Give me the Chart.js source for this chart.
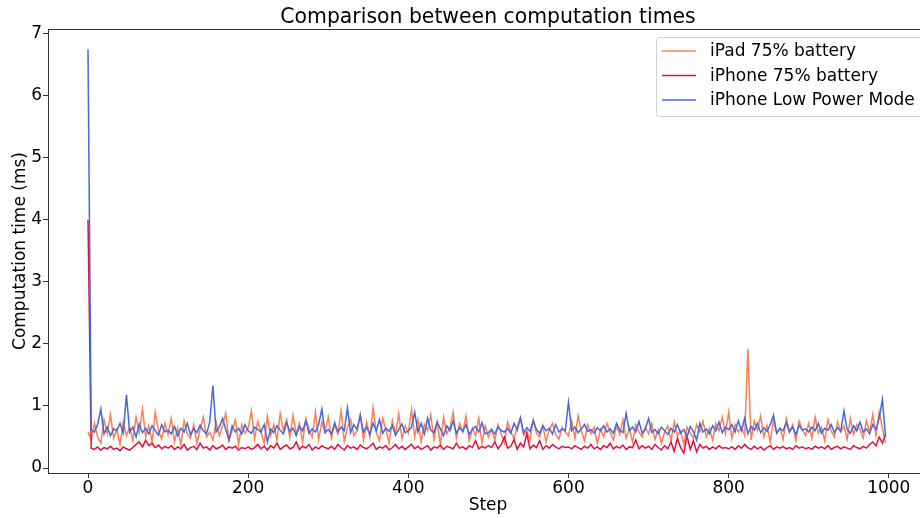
<!DOCTYPE html>
<html lang="en">
<head>
<meta charset="UTF-8" />
<title>Comparison between computation times</title>
<script src="https://cdn.jsdelivr.net/npm/chart.js"></script>
<style>
  html, body { margin: 0; padding: 0; background: #fff; overflow: hidden; }
  #wrap { width: 920px; height: 518px; overflow: hidden; }
</style>
</head>
<body>
<div id="wrap"><canvas id="timesChart" width="928" height="518"></canvas></div>
<script>
  // one value every STEP steps (0 .. 996)
  const STEP = 4;

  const seriesNames = ['iPad 75% battery', 'iPhone 75% battery', 'iPhone Low Power Mode'];
  const seriesColors = ['#ff7f50', '#dc143c', '#4169e1'];

  const xTicks = [0, 200, 400, 600, 800, 1000];
  const yTicks = [0, 1, 2, 3, 4, 5, 6, 7];

  const ipad = [
    0.58, 0.45, 0.72, 0.50, 0.40, 0.78, 0.55, 0.86, 0.48, 0.62, 0.38, 0.74, 0.52, 0.66, 0.44, 0.82, 0.57, 0.95, 0.50, 0.68, 0.41, 0.90, 0.60, 0.47, 0.72,
    0.53, 0.80, 0.42, 0.65, 0.37, 0.76, 0.55, 0.48, 0.70, 0.40, 0.62, 0.82, 0.50, 0.58, 0.45, 0.74, 0.52, 0.68, 0.88, 0.44, 0.60, 0.78, 0.38, 0.70, 0.56,
    0.64, 0.92, 0.47, 0.75, 0.58, 0.40, 0.83, 0.52, 0.70, 0.45, 0.88, 0.60, 0.78, 0.49, 0.85, 0.56, 0.72, 0.42, 0.80, 0.62, 0.50, 0.90, 0.46, 0.74, 0.58,
    0.82, 0.48, 0.70, 0.55, 0.92, 0.43, 0.66, 0.78, 0.52, 0.60, 0.86, 0.45, 0.74, 0.50, 0.97, 0.58, 0.44, 0.80, 0.62, 0.40, 0.76, 0.54, 0.88, 0.47, 0.68,
    0.56, 0.95, 0.50, 0.78, 0.42, 0.70, 0.60, 0.86, 0.46, 0.74, 0.38, 0.82, 0.55, 0.66, 0.90, 0.48, 0.72, 0.58, 0.84, 0.44, 0.64, 0.52, 0.80, 0.40, 0.68,
    0.50, 0.62, 0.45, 0.70, 0.55, 0.40, 0.74, 0.58, 0.48, 0.66, 0.82, 0.52, 0.60, 0.44, 0.78, 0.56, 0.50, 0.68, 0.42, 0.62, 0.72, 0.54, 0.46, 0.66, 0.58,
    0.52, 0.76, 0.48, 0.84, 0.60, 0.44, 0.70, 0.55, 0.66, 0.40, 0.62, 0.50, 0.72, 0.58, 0.45, 0.68, 0.54, 0.78, 0.48, 0.64, 0.42, 0.70, 0.58, 0.50, 0.66,
    0.55, 0.72, 0.46, 0.62, 0.40, 0.58, 0.68, 0.44, 0.74, 0.52, 0.60, 0.38, 0.66, 0.56, 0.48, 0.70, 0.58, 0.76, 0.50, 0.64, 0.45, 0.72, 0.60, 0.82, 0.55,
    0.90, 0.48, 0.70, 0.58, 0.66, 0.52, 1.92, 0.45, 0.76, 0.60, 0.84, 0.50, 0.68, 0.42, 0.78, 0.56, 0.64, 0.46, 0.80, 0.58, 0.70, 0.44, 0.76, 0.62, 0.52,
    0.72, 0.48, 0.82, 0.56, 0.66, 0.44, 0.78, 0.60, 0.50, 0.74, 0.58, 0.68, 0.46, 0.80, 0.54, 0.70, 0.62, 0.48, 0.76, 0.58, 0.86, 0.52, 0.90, 0.64, 0.40
  ];

  const iphone = [
    4.00, 0.32, 0.30, 0.34, 0.29, 0.33, 0.31, 0.35, 0.30, 0.32, 0.28, 0.34, 0.31, 0.29, 0.33, 0.38, 0.42, 0.34, 0.45, 0.36, 0.40, 0.33, 0.37, 0.31, 0.35,
    0.32, 0.36, 0.30, 0.34, 0.31, 0.38, 0.29, 0.33, 0.35, 0.30, 0.40, 0.32, 0.34, 0.29, 0.36, 0.31, 0.33, 0.37, 0.30, 0.34, 0.32, 0.35, 0.29, 0.33, 0.31,
    0.34, 0.30, 0.33, 0.38, 0.31, 0.35, 0.29, 0.36, 0.32, 0.40, 0.30, 0.34, 0.37, 0.31, 0.33, 0.42, 0.30, 0.35, 0.32, 0.38, 0.29, 0.34, 0.31, 0.36, 0.33,
    0.31, 0.35, 0.30, 0.38, 0.33, 0.29, 0.36, 0.32, 0.34, 0.30, 0.37, 0.33, 0.31, 0.35, 0.40, 0.30, 0.34, 0.32, 0.36, 0.29, 0.33, 0.38, 0.31, 0.35, 0.30,
    0.34, 0.38, 0.31, 0.35, 0.30, 0.33, 0.36, 0.29, 0.34, 0.32, 0.37, 0.30, 0.35, 0.33, 0.31, 0.40, 0.32, 0.34, 0.30, 0.36, 0.33, 0.44, 0.31, 0.35, 0.32,
    0.36, 0.33, 0.42, 0.31, 0.38, 0.50, 0.32, 0.35, 0.46, 0.30, 0.40, 0.34, 0.55, 0.31, 0.37, 0.33, 0.44, 0.30, 0.36, 0.32, 0.38, 0.34, 0.31, 0.35, 0.33,
    0.34, 0.31, 0.36, 0.33, 0.30, 0.35, 0.32, 0.38, 0.31, 0.34, 0.30, 0.36, 0.33, 0.40, 0.31, 0.35, 0.32, 0.37, 0.30, 0.34, 0.33, 0.45, 0.31, 0.36, 0.32,
    0.35, 0.30, 0.38, 0.33, 0.29, 0.36, 0.31, 0.42, 0.27, 0.48, 0.33, 0.24, 0.52, 0.30, 0.44, 0.26, 0.38, 0.32, 0.35, 0.30, 0.34, 0.31, 0.36, 0.32, 0.33,
    0.31, 0.34, 0.30, 0.36, 0.32, 0.38, 0.33, 0.30, 0.35, 0.31, 0.34, 0.29, 0.33, 0.36, 0.30, 0.34, 0.32, 0.35, 0.31, 0.33, 0.30, 0.36, 0.32, 0.34, 0.31,
    0.33, 0.30, 0.35, 0.32, 0.34, 0.31, 0.36, 0.30, 0.33, 0.35, 0.31, 0.34, 0.32, 0.30, 0.36, 0.33, 0.31, 0.35, 0.32, 0.38, 0.42, 0.36, 0.50, 0.40, 0.55
  ];

  const lowPower = [
    6.74, 0.62, 0.58, 0.70, 0.95, 0.55, 0.66, 0.52, 0.63, 0.60, 0.72, 0.56, 1.18, 0.58, 0.66, 0.50, 0.71, 0.57, 0.64, 0.55, 0.68, 0.60, 0.53, 0.70, 0.58,
    0.61, 0.55, 0.67, 0.52, 0.64, 0.58, 0.72, 0.54, 0.63, 0.57, 0.69, 0.60, 0.55, 0.74, 1.33, 0.58, 0.66, 0.80, 0.62, 0.45, 0.68, 0.58, 0.64, 0.55, 0.70,
    0.60, 0.56, 0.66, 0.62, 0.58, 0.70, 0.42, 0.63, 0.57, 0.68, 0.61, 0.55, 0.73, 0.59, 0.64, 0.52, 0.67, 0.60, 0.76, 0.56, 0.63, 0.58, 0.70, 0.95, 0.57,
    0.62, 0.55, 0.73, 0.58, 0.66, 0.60, 0.97, 0.57, 0.70, 0.62, 0.85, 0.58, 0.66, 0.54, 0.72, 0.60, 0.78, 0.56, 0.64, 0.59, 0.68, 0.53, 0.62, 0.71, 0.57,
    0.60, 0.66, 0.90, 0.58, 0.72, 0.55, 0.80, 0.61, 0.57, 0.74, 0.63, 0.52, 0.68, 0.60, 0.76, 0.56, 0.65, 0.59, 0.70, 0.54, 0.62, 0.67, 0.58, 0.73, 0.55,
    0.57, 0.62, 0.55, 0.66, 0.60, 0.58, 0.64, 0.56, 0.72, 0.61, 0.80, 0.57, 0.65, 0.59, 0.76, 0.62, 0.56, 0.68, 0.60, 0.64, 0.55, 0.70, 0.58, 0.63, 0.60,
    1.06, 0.60, 0.66, 0.57, 0.63, 0.70, 0.59, 0.62, 0.56, 0.65, 0.60, 0.68, 0.58, 0.63, 0.56, 0.72, 0.61, 0.57, 0.88, 0.60, 0.66, 0.58, 0.75, 0.56, 0.63,
    0.80, 0.57, 0.62, 0.55, 0.66, 0.60, 0.54, 0.64, 0.58, 0.70, 0.56, 0.62, 0.50, 0.67, 0.59, 0.45, 0.72, 0.58, 0.63, 0.55, 0.68, 0.60, 0.74, 0.57, 0.66,
    0.62, 0.70, 0.58, 0.76, 0.60, 0.80, 0.55, 0.67, 0.61, 0.72, 0.57, 0.65, 0.59, 0.70, 0.85, 0.56, 0.64, 0.60, 0.73, 0.58, 0.66, 0.54, 0.69, 0.61, 0.63,
    0.58, 0.66, 0.60, 0.72, 0.56, 0.64, 0.61, 0.70, 0.57, 0.65, 0.59, 0.92, 0.62, 0.56, 0.68, 0.60, 0.74, 0.58, 0.63, 0.55, 0.70, 0.62, 0.80, 1.10, 0.50
  ];

  const FONT = "'DejaVu Sans', sans-serif";

  function toPoints(values) {
    return values.map((v, i) => ({ x: i * STEP, y: v }));
  }

  const allSeries = [ipad, iphone, lowPower];
  // matplotlib draws later lines on top: lower order = drawn last in Chart.js
  const datasets = allSeries.map((values, i) => ({
    label: seriesNames[i],
    data: toPoints(values),
    borderColor: seriesColors[i],
    borderWidth: 1.5,
    pointRadius: 0,
    tension: 0,
    order: 2 - i
  }));

  // title, frame and legend in matplotlib style
  const decorPlugin = {
    id: 'decor',
    afterDraw(chart) {
      const ctx = chart.ctx;
      const area = chart.chartArea;
      ctx.save();
      ctx.strokeStyle = '#333';
      ctx.lineWidth = 1;
      ctx.strokeRect(area.left + 0.5, area.top + 0.5, area.right - area.left, area.bottom - area.top);

      ctx.fillStyle = '#000';
      ctx.font = '20.4px ' + FONT;
      ctx.textAlign = 'center';
      ctx.textBaseline = 'middle';
      ctx.fillText('Comparison between computation times', (area.left + area.right) / 2, 18);

      // legend box
      const bx = 656, by = 37, bw = 290, bh = 79;
      ctx.fillStyle = 'rgba(255,255,255,0.85)';
      ctx.strokeStyle = '#d0d0d0';
      ctx.beginPath();
      ctx.roundRect(bx + 0.5, by + 0.5, bw, bh, 3);
      ctx.fill();
      ctx.stroke();
      ctx.font = '17px ' + FONT;
      ctx.textAlign = 'left';
      seriesNames.forEach((name, i) => {
        const y = 51 + i * 24.5;
        ctx.strokeStyle = seriesColors[i];
        ctx.lineWidth = 1.5;
        ctx.beginPath();
        ctx.moveTo(662, y);
        ctx.lineTo(696, y);
        ctx.stroke();
        ctx.fillStyle = '#000';
        ctx.fillText(name, 710, y + 1);
      });
      ctx.restore();
    }
  };

  new Chart(document.getElementById('timesChart'), {
    type: 'line',
    data: { datasets: datasets },
    plugins: [decorPlugin],
    options: {
      responsive: false,
      animation: false,
      layout: { padding: { top: 29, right: 0, left: 0, bottom: 0 } },
      plugins: {
        legend: { display: false },
        title: { display: false },
        tooltip: { enabled: false }
      },
      scales: {
        x: {
          type: 'linear',
          min: -49.95,
          max: 1048.95,
          afterBuildTicks: scale => { scale.ticks = xTicks.map(v => ({ value: v })); },
          afterFit: scale => { scale.height = 45; },
          border: { display: false },
          grid: { drawOnChartArea: false, drawTicks: true, tickLength: 5, color: '#333' },
          ticks: { color: '#000', font: { family: FONT, size: 17 }, padding: 0, maxRotation: 0, callback: v => String(v) },
          title: { display: true, text: 'Step', color: '#000', font: { family: FONT, size: 17 }, padding: { top: 0, bottom: 2 } }
        },
        y: {
          type: 'linear',
          min: -0.08,
          max: 7.07,
          afterBuildTicks: scale => { scale.ticks = yTicks.map(v => ({ value: v })); },
          afterFit: scale => { scale.width = 48; },
          border: { display: false },
          grid: { drawOnChartArea: false, drawTicks: true, tickLength: 5, color: '#333' },
          ticks: { color: '#000', font: { family: FONT, size: 17 }, padding: 1, callback: v => String(v) },
          title: { display: true, text: 'Computation time (ms)', color: '#000', font: { family: FONT, size: 17 }, padding: { top: 10, bottom: 0 } }
        }
      }
    }
  });
</script>
</body>
</html>
